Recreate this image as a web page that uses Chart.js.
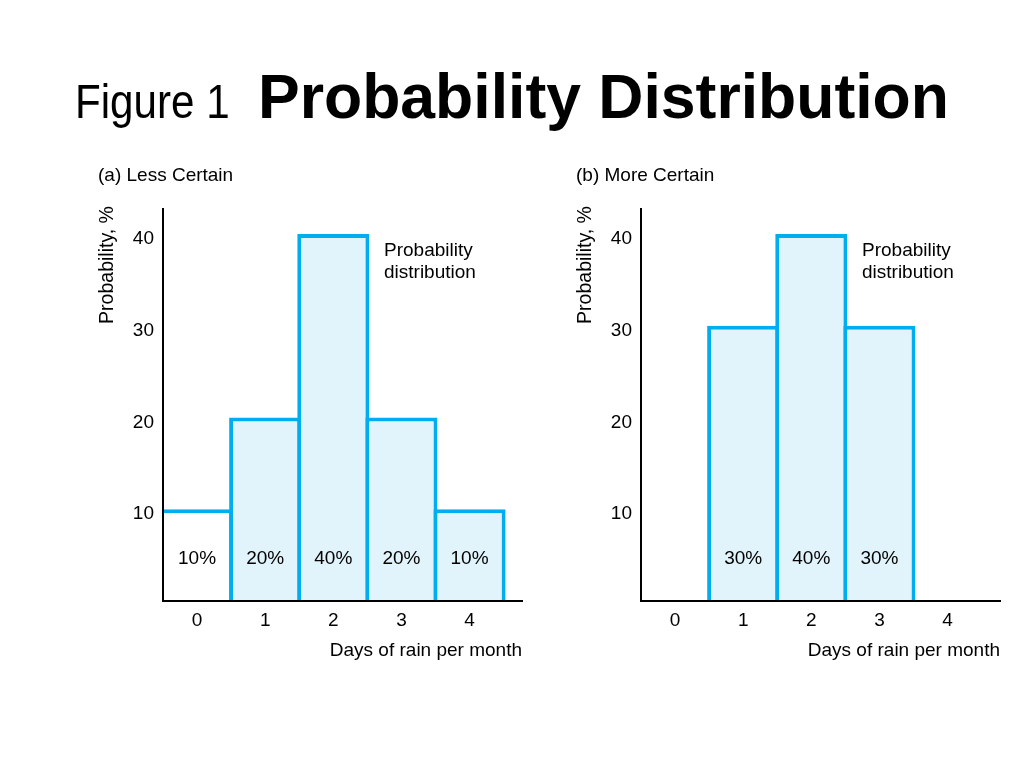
<!DOCTYPE html>
<html>
<head>
<meta charset="utf-8">
<script src="https://cdn.jsdelivr.net/npm/chart.js@4.4.0/dist/chart.umd.min.js"></script>
<style>
html, body { margin: 0; padding: 0; background: #fff; }
canvas { position: absolute; left: 0; top: 0; }
</style>
</head>
<body>
<canvas id="less" width="1024" height="768"></canvas>
<canvas id="more" width="1024" height="768"></canvas>
<script>
const xTicks = [0, 1, 2, 3, 4];
const yTicks = [10, 20, 30, 40];
const daysLess = [0, 1, 2, 3, 4];
const probLess = [10, 20, 40, 20, 10];
const daysMore = [1, 2, 3];
const probMore = [30, 40, 30];

const BLUE = '#00aeef';
const FILL = '#e1f3fb';
const FONT = "'Liberation Sans', Arial, Helvetica, sans-serif";

Chart.defaults.font.family = FONT;
Chart.defaults.font.size = 19;
Chart.defaults.color = '#000';

// big heading, only on the left canvas
const header = {
  id: 'header',
  afterDraw(chart) {
    const ctx = chart.ctx;
    ctx.save();
    ctx.fillStyle = '#000';
    ctx.textBaseline = 'alphabetic';
    ctx.translate(75, 118);
    ctx.scale(0.86, 1);
    ctx.font = '49px ' + FONT;
    ctx.fillText('Figure 1', 0, 0);
    ctx.restore();
    ctx.save();
    ctx.fillStyle = '#000';
    ctx.font = 'bold 62.5px ' + FONT;
    ctx.fillText('Probability Distribution', 258, 118);
    ctx.restore();
  }
};

// panel caption, y title and the note
const panelText = {
  id: 'panelText',
  afterDraw(chart, args, opts) {
    const ctx = chart.ctx, a = chart.chartArea;
    ctx.save();
    ctx.fillStyle = '#000';
    ctx.font = '19px ' + FONT;
    ctx.textAlign = 'left';
    ctx.textBaseline = 'alphabetic';
    ctx.fillText(opts.caption, a.left - 65, 181);
    ctx.fillText('Probability', a.left + 221, 256);
    ctx.fillText('distribution', a.left + 221, 278);
    ctx.translate(a.left - 55, 265);
    ctx.rotate(-Math.PI / 2);
    ctx.textAlign = 'center';
    ctx.textBaseline = 'middle';
    ctx.font = '19.5px ' + FONT;
    ctx.fillText('Probability, %', 0, 0);
    ctx.restore();
  }
};

// "nn%" written low inside each bar
const barLabels = {
  id: 'barLabels',
  afterDatasetsDraw(chart) {
    const ctx = chart.ctx;
    const ds = chart.data.datasets[0];
    const y = chart.scales.y.getPixelForValue(4.6);
    ctx.save();
    ctx.fillStyle = '#000';
    ctx.font = '19px ' + FONT;
    ctx.textAlign = 'center';
    ctx.textBaseline = 'middle';
    chart.getDatasetMeta(0).data.forEach(function(bar, i) {
      ctx.fillText(ds.data[i].y + '%', bar.x, y);
    });
    ctx.restore();
  }
};

function makeChart(id, days, probs, caption, padLeft, padRight, whiteFirst, extra) {
  const ctx = document.getElementById(id);
  return new Chart(ctx, {
    type: 'bar',
    data: {
      datasets: [{
        data: days.map(function(d, i) { return { x: d, y: probs[i] }; }),
        backgroundColor: function(c) {
          return (whiteFirst && c.dataIndex === 0) ? '#ffffff' : FILL;
        },
        borderColor: BLUE,
        borderWidth: function(c) {
          return { left: (whiteFirst && c.dataIndex === 0) ? 0 : 4, top: 4, right: 4, bottom: 0 };
        },
        borderSkipped: 'start',
        barPercentage: 1 + 4 / 68,
        categoryPercentage: 1,
        clip: 0
      }]
    },
    options: {
      responsive: false,
      animation: false,
      events: [],
      layout: { padding: { left: padLeft, top: 209, right: padRight, bottom: 0 } },
      plugins: {
        legend: { display: false },
        tooltip: { enabled: false },
        panelText: { caption: caption }
      },
      scales: {
        x: {
          type: 'linear',
          min: -0.5,
          max: 4.77,
          offset: false,
          z: 1,
          grid: { display: false, drawTicks: false },
          border: { display: true, color: '#000', width: 2, z: 1 },
          ticks: { padding: 8, font: { size: 19 } },
          afterBuildTicks: function(s) { s.ticks = xTicks.map(function(v) { return { value: v }; }); },
          afterFit: function(s) { s.height = 167; },
          title: {
            display: true,
            text: 'Days of rain per month',
            align: 'end',
            font: { size: 19 },
            padding: { top: 0, bottom: 106 }
          }
        },
        y: {
          min: 0,
          max: 42.72,
          z: 1,
          grid: { display: false, drawTicks: false },
          border: { display: true, color: '#000', width: 2, z: 1 },
          ticks: { padding: 9, labelOffset: 5, font: { size: 19 } },
          afterBuildTicks: function(s) { s.ticks = yTicks.map(function(v) { return { value: v }; }); },
          afterFit: function(s) { s.width = 163; }
        }
      }
    },
    plugins: [panelText, barLabels].concat(extra || [])
  });
}

makeChart('less', daysLess, probLess, '(a) Less Certain', 0, 1024 - 522, true, [header]);
makeChart('more', daysMore, probMore, '(b) More Certain', 641 - 163, 1024 - 1000, false);
</script>
</body>
</html>
